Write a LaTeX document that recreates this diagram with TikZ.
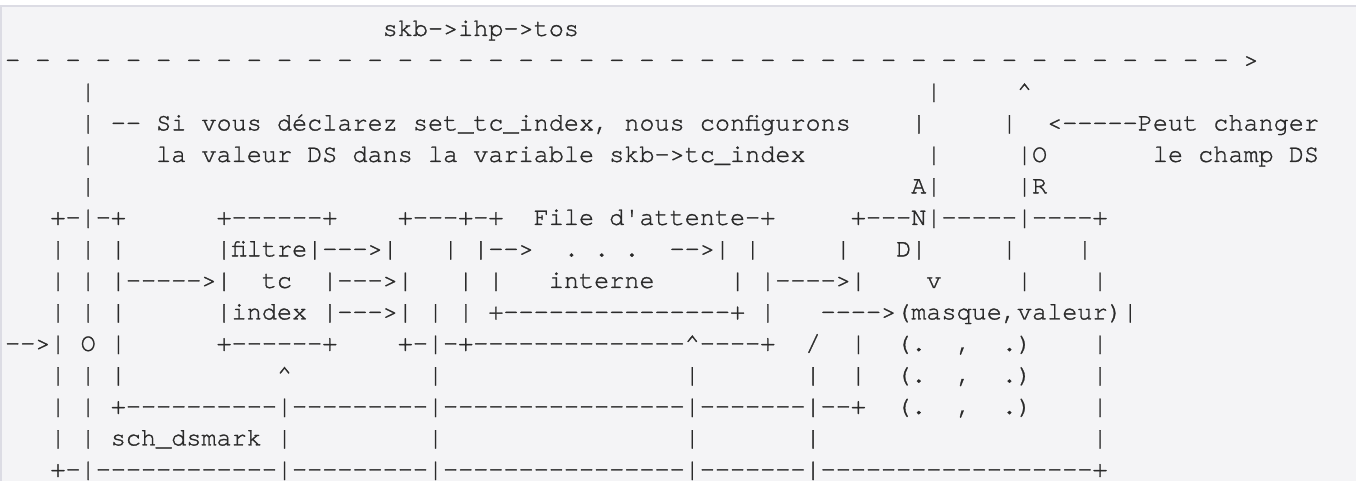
\documentclass[tikz,border=0pt]{standalone}
\usepackage{fontspec}
\setmonofont{TeX Gyre Cursor}[FakeBold=1.2]
\definecolor{codebg}{HTML}{F4F4F6}
\definecolor{coderand}{HTML}{DCDCE4}
\definecolor{codetext}{HTML}{2A2A2A}
% Zeilen der Skizze, Leerzeichen bleiben stehen
\begingroup
\catcode`\^=12 \catcode`\_=12 \obeyspaces%
\gdef {\ }%
\gdef\zeileA{                         skb->ihp->tos}%
\gdef\zeileB{- - - - - - - - - - - - - - - - - - - - - - - - - - - - - - - - - - - - - - - - - >}%
\gdef\zeileC{     |                                                       |     ^}%
\gdef\zeileD{     | -- Si vous déclarez set_tc_index, nous configurons    |     |  <-----Peut changer}%
\gdef\zeileE{     |    la valeur DS dans la variable skb->tc_index        |     |O       le champ DS}%
\gdef\zeileF{     |                                                      A|     |R}%
\gdef\zeileG{   +-|-+      +------+    +---+-+  File d'attente-+     +---N|-----|----+}%
\gdef\zeileH{   | | |      |filtre|--->|   | |-->  . . .  -->| |     |   D|     |    |}%
\gdef\zeileI{   | | |----->|  tc  |--->|   | |   interne     | |---->|    v     |    |}%
\gdef\zeileJ{   | | |      |index |--->| | | +---------------+ |   ---->(masque,valeur)|}%
\gdef\zeileK{-->| O |      +------+    +-|-+--------------^----+  /  |  (.  ,  .)    |}%
\gdef\zeileL{   | | |          ^         |                |       |  |  (.  ,  .)    |}%
\gdef\zeileM{   | | +----------|---------|----------------|-------|--+  (.  ,  .)    |}%
\gdef\zeileN{   | | sch_dsmark |         |                |       |                  |}%
\gdef\zeileO{   +-|------------|---------|----------------|-------|------------------+}%
\endgroup
\begin{document}
\begin{tikzpicture}[x=1pt,y=-1pt,
    zeile/.style={anchor=base west,inner sep=0pt,outer sep=0pt,text=codetext,
      font=\ttfamily\fontsize{25.17pt}{31.5pt}\selectfont}]
  \useasboundingbox (0,0) rectangle (1356,481);
  \fill[white] (0,0) rectangle (1356,481);
  \fill[codebg] (0,6) rectangle (1356,481);
  \draw[coderand,line width=1.5pt] (0,6) -- (1356,6);
  \draw[coderand,line width=1.5pt] (0.75,6) -- (0.75,481);
  % Grundlinie: 35.9 + 31.5*Zeile
  \node[zeile] (r0) at (5.15,35.9) {\zeileA};
  \node[zeile] (r1) at (5.15,67.4) {\zeileB};
  \node[zeile] (r2) at (5.15,98.9) {\zeileC};
  \node[zeile] (r3) at (5.15,130.4) {\zeileD};
  \node[zeile] (r4) at (5.15,161.9) {\zeileE};
  \node[zeile] (r5) at (5.15,193.4) {\zeileF};
  \node[zeile] (r6) at (5.15,224.9) {\zeileG};
  \node[zeile] (r7) at (5.15,256.4) {\zeileH};
  \node[zeile] (r8) at (5.15,287.9) {\zeileI};
  \node[zeile] (r9) at (5.15,319.4) {\zeileJ};
  \node[zeile] (r10) at (5.15,350.9) {\zeileK};
  \node[zeile] (r11) at (5.15,382.4) {\zeileL};
  \node[zeile] (r12) at (5.15,413.9) {\zeileM};
  \node[zeile] (r13) at (5.15,445.4) {\zeileN};
  \node[zeile] (r14) at (5.15,476.9) {\zeileO};
\end{tikzpicture}
\end{document}
